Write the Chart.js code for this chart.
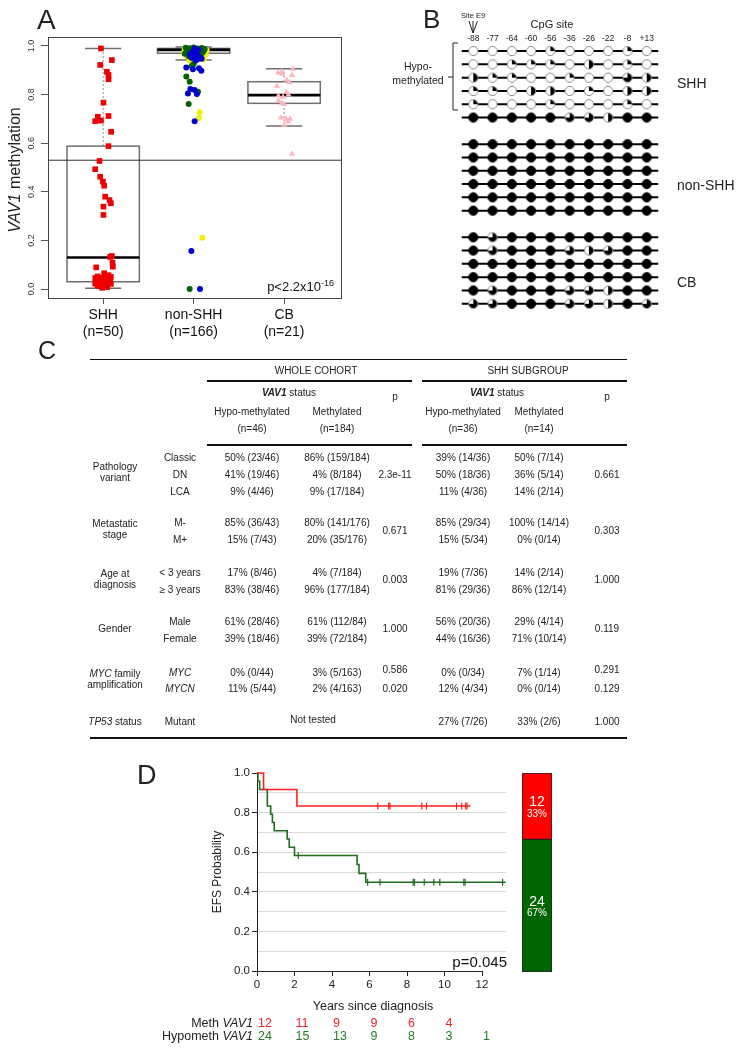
<!DOCTYPE html>
<html>
<head>
<meta charset="utf-8">
<script src="https://cdn.jsdelivr.net/npm/chart.js@4.4.1/dist/chart.umd.min.js"></script>
<style>
body { margin: 0; background: #fff; }
#page { position: relative; width: 739px; height: 1048px; overflow: hidden; font-family: "Liberation Sans", Arial, sans-serif; color: #222; background: #fff; }
canvas { position: absolute; }
.t { position: absolute; white-space: nowrap; line-height: 1; }
.hr { position: absolute; background: #111; height: 1.5px; }
svg { position: absolute; left: 0; top: 0; }
</style>
</head>
<body>
<div id="page">
  <canvas id="boxChart" style="left:0;top:0;width:350px;height:345px" width="350" height="345"></canvas>
  <canvas id="cpgChart" style="left:440px;top:0;width:299px;height:330px" width="299" height="330"></canvas>
  <canvas id="kmChart" style="left:150px;top:760px;width:410px;height:245px" width="410" height="245"></canvas>
  <canvas id="barChart" style="left:521px;top:772px;width:32px;height:201px" width="32" height="201"></canvas>
  <svg width="739" height="1048">
    <g stroke="#222" stroke-width="1" fill="none">
      <path d="M473 21 L473 33 M469 21 L473 33 L477.5 21"/>
      <path d="M458 43 L453 43 L453 110 L458 110 M448 77 L453 77"/>
    </g>
  </svg>
</div>
<script>
// ---------- panel A data ----------
const groups = ['SHH', 'non-SHH', 'CB'];
const groupN = ['(n=50)', '(n=166)', '(n=21)'];
const yTicksA = [0, 0.2, 0.4, 0.6, 0.8, 1.0];
const cutoff = 0.53;
// box stats per group
const boxLow = [0.003, 0.942, 0.671];
const boxQ1 = [0.030, 0.970, 0.764];
const boxMed = [0.130, 0.984, 0.798];
const boxQ3 = [0.588, 0.990, 0.853];
const boxHigh = [0.990, 0.996, 0.906];

const shhVals = [0.99, 0.942, 0.922, 0.894, 0.881, 0.863, 0.767, 0.709, 0.712, 0.691, 0.693, 0.647, 0.588, 0.527, 0.493,
  0.462, 0.442, 0.425, 0.38, 0.366, 0.353, 0.339, 0.305, 0.136, 0.132, 0.108, 0.092, 0.089, 0.065, 0.057, 0.052, 0.05,
  0.047, 0.045, 0.043, 0.036, 0.036, 0.031, 0.029, 0.026, 0.024, 0.022, 0.021, 0.019, 0.021, 0.016, 0.016, 0.012, 0.008, 0.005];
const shhJit = [-0.025, 0.096, -0.033, 0.041, 0.059, 0.059, 0.003, -0.059, 0.059, -0.088, -0.025, 0.088, 0.059, -0.041, -0.088,
  -0.033, -0.003, 0.011, 0.022, 0.07, 0.085, 0.003, 0.003, 0.096, 0.077, 0.103, 0.107, -0.077, 0.011, 0.059, -0.063, 0.085,
  -0.014, -0.088, 0.041, -0.041, 0.077, -0.077, 0.003, 0.059, -0.052, -0.088, 0.033, -0.025, 0.085, -0.063, 0.022, -0.041, 0.044, -0.011];

const nonShhGreen = [0.993, 0.991, 0.994, 0.990, 0.992, 0.988, 0.985, 0.983, 0.986, 0.982, 0.980, 0.978, 0.975, 0.977, 0.973,
  0.970, 0.968, 0.962, 0.958, 0.926, 0.918, 0.874, 0.853, 0.812, 0.761, 0.0];
const nonShhGreenJit = [-0.088, -0.044, 0, 0.044, 0.088, 0.122, -0.066, -0.022, 0.022, 0.066, 0.11, -0.077, -0.033, 0.055, 0.099,
  0.011, -0.099, 0.077, -0.055, 0, -0.022, -0.081, -0.044, 0.048, -0.055, -0.044];
const nonShhBlue = [0.990, 0.985, 0.975, 0.970, 0.966, 0.963, 0.958, 0.955, 0.952, 0.948, 0.945, 0.940, 0.911, 0.904, 0.908,
  0.898, 0.823, 0.819, 0.805, 0.802, 0.690, 0.156, 0.0];
const nonShhBlueJit = [0.011, 0.055, -0.011, 0.033, -0.044, 0, 0.022, 0.066, -0.022, 0.088, 0.044, 0.022, -0.081, -0.008, 0.059,
  0.085, -0.036, 0.011, -0.063, 0.036, 0.011, -0.025, 0.07];
const nonShhYellow = [0.988, 0.984, 0.980, 0.972, 0.968, 0.965, 0.960, 0.956, 0.952, 0.948, 0.944, 0.940, 0.936, 0.727, 0.704, 0.211];
const nonShhYellowJit = [-0.099, 0.144, -0.088, -0.11, -0.066, 0.133, -0.077, -0.033, -0.055, -0.011, 0.11, -0.044, 0.011, 0.066, 0.059, 0.096];

const cbVals = [0.905, 0.895, 0.890, 0.885, 0.880, 0.860, 0.850, 0.835, 0.810, 0.800, 0.795, 0.790, 0.775, 0.765, 0.760,
  0.705, 0.700, 0.700, 0.690, 0.675, 0.556];
const cbJit = [0.096, -0.025, -0.066, -0.022, 0.088, 0.03, 0.059, -0.081, 0.022, 0.048, -0.063, -0.011, -0.063, -0.025, 0,
  -0.036, 0.022, 0.066, 0.044, 0, 0.088];

// ---------- panel B data ----------
const cpgSites = ['-88', '-77', '-64', '-60', '-56', '-36', '-26', '-22', '-8', '+13'];
const shhMeth = [
  [0, 0, 0, 0, 0.25, 0, 0, 0, 0.25, 0],
  [0, 0, 0.25, 0.25, 0.25, 0, 0.5, 0, 0.25, 0],
  [0.5, 0.25, 0.25, 0, 0, 0.25, 0, 0, 0.75, 0.5],
  [0.25, 0.25, 0, 0.5, 0.5, 0, 0.25, 0, 0.5, 0.5],
  [0.25, 0, 0, 0, 0.25, 0, 0, 0, 0.25, 0],
  [1, 1, 1, 1, 1, 0.75, 0.75, 0.5, 1, 1]
];
const nonShhMeth = [
  [1, 1, 1, 1, 1, 1, 1, 1, 1, 1],
  [1, 1, 1, 1, 1, 1, 1, 1, 1, 1],
  [1, 1, 1, 1, 1, 1, 1, 1, 1, 1],
  [1, 1, 1, 1, 1, 1, 1, 1, 1, 1],
  [1, 1, 1, 1, 1, 1, 1, 1, 1, 1],
  [1, 1, 1, 1, 1, 1, 1, 1, 1, 1]
];
const cbMeth = [
  [1, 0.75, 1, 1, 1, 1, 1, 1, 1, 1],
  [1, 0.75, 1, 1, 1, 0.75, 0.5, 0.75, 1, 1],
  [1, 1, 1, 1, 1, 1, 1, 1, 1, 1],
  [1, 1, 1, 1, 1, 1, 1, 1, 1, 1],
  [1, 0.75, 1, 1, 1, 0.75, 0.75, 0.5, 1, 1],
  [0.75, 0.75, 1, 1, 1, 0.75, 0.75, 0.5, 1, 0.75]
];
const methBlocks = [shhMeth, nonShhMeth, cbMeth];
const blockStartRow = [0, 7, 14];

// ---------- panel C data ----------
const tblRows = [
  { label: ['Pathology', 'variant'], subs: ['Classic', 'DN', 'LCA'],
    whole: [['50% (23/46)', '86% (159/184)'], ['41% (19/46)', '4% (8/184)'], ['9% (4/46)', '9% (17/184)']], pWhole: ['2.3e-11'],
    shh: [['39% (14/36)', '50% (7/14)'], ['50% (18/36)', '36% (5/14)'], ['11% (4/36)', '14% (2/14)']], pShh: ['0.661'] },
  { label: ['Metastatic', 'stage'], subs: ['M-', 'M+'],
    whole: [['85% (36/43)', '80% (141/176)'], ['15% (7/43)', '20% (35/176)']], pWhole: ['0.671'],
    shh: [['85% (29/34)', '100% (14/14)'], ['15% (5/34)', '0% (0/14)']], pShh: ['0.303'] },
  { label: ['Age at', 'diagnosis'], subs: ['&lt; 3 years', '&ge; 3 years'],
    whole: [['17% (8/46)', '4% (7/184)'], ['83% (38/46)', '96% (177/184)']], pWhole: ['0.003'],
    shh: [['19% (7/36)', '14% (2/14)'], ['81% (29/36)', '86% (12/14)']], pShh: ['1.000'] },
  { label: ['Gender'], subs: ['Male', 'Female'],
    whole: [['61% (28/46)', '61% (112/84)'], ['39% (18/46)', '39% (72/184)']], pWhole: ['1.000'],
    shh: [['56% (20/36)', '29% (4/14)'], ['44% (16/36)', '71% (10/14)']], pShh: ['0.119'] },
  { label: ['<i>MYC</i> family', 'amplification'], subs: ['<i>MYC</i>', '<i>MYCN</i>'],
    whole: [['0% (0/44)', '3% (5/163)'], ['11% (5/44)', '2% (4/163)']], pWhole: ['0.586', '0.020'],
    shh: [['0% (0/34)', '7% (1/14)'], ['12% (4/34)', '0% (0/14)']], pShh: ['0.291', '0.129'] },
  { label: ['<i>TP53</i> status'], subs: ['Mutant'],
    whole: null, pWhole: [],
    shh: [['27% (7/26)', '33% (2/6)']], pShh: ['1.000'] }
];

// ---------- panel D data ----------
const methTimes = [0, 0.35, 2.13, 11.38];
const methSurv = [1, 0.917, 0.833, 0.833];
const methCensorT = [6.44, 7.02, 7.09, 8.79, 9.04, 10.64, 10.92, 11.13, 11.2];
const methCensorS = [0.833, 0.833, 0.833, 0.833, 0.833, 0.833, 0.833, 0.833, 0.833];
const hypoTimes = [0, 0.05, 0.14, 0.55, 0.73, 0.82, 0.92, 1.61, 1.72, 2.0, 5.34, 5.44, 5.8, 13.26];
const hypoSurv = [1, 0.958, 0.917, 0.833, 0.792, 0.75, 0.708, 0.667, 0.625, 0.583, 0.538, 0.493, 0.448, 0.448];
const hypoCensorT = [2.2, 5.9, 6.56, 8.33, 8.4, 8.92, 9.43, 9.75, 11.03, 11.1, 13.1];
const hypoCensorS = [0.583, 0.448, 0.448, 0.448, 0.448, 0.448, 0.448, 0.448, 0.448, 0.448, 0.448];
const yearTicks = [0, 2, 4, 6, 8, 10, 12];
const efsTicks = [0, 0.1, 0.2, 0.3, 0.4, 0.5, 0.6, 0.7, 0.8, 0.9, 1.0];
const methAtRisk = [12, 11, 9, 9, 6, 4];
const hypoAtRisk = [24, 15, 13, 9, 8, 3, 1];
const groupCounts = { meth: 12, hypo: 24 };

const RED = '#ff1f1f', GREEN = '#1e6e1e';

Chart.defaults.font.family = '"Liberation Sans", Arial, sans-serif';
Chart.defaults.animation = false;
Chart.defaults.plugins.legend.display = false;
Chart.defaults.plugins.tooltip.enabled = false;

const page = document.getElementById('page');
function put(html, x, cy, size, align, style) {
  const d = document.createElement('div');
  d.className = 't';
  d.innerHTML = html;
  d.style.fontSize = size + 'px';
  d.style.top = (cy - size * 0.49) + 'px';
  if (align === 'c') { d.style.left = x + 'px'; d.style.transform = 'translateX(-50%)'; }
  else if (align === 'r') { d.style.right = (739 - x) + 'px'; }
  else d.style.left = x + 'px';
  if (style) Object.assign(d.style, style);
  page.appendChild(d);
  return d;
}
function putRot(html, x, cy, size) {
  const d = document.createElement('div');
  d.className = 't';
  d.innerHTML = html;
  d.style.fontSize = size + 'px';
  d.style.left = x + 'px';
  d.style.top = cy + 'px';
  d.style.transform = 'translate(-50%,-50%) rotate(-90deg)';
  page.appendChild(d);
}
function hline(x1, x2, y) {
  const d = document.createElement('div');
  d.className = 'hr';
  d.style.left = x1 + 'px';
  d.style.width = (x2 - x1) + 'px';
  d.style.top = (y - 0.75) + 'px';
  page.appendChild(d);
}

// ---------- A: box plot ----------
const pts = (vals, jit, g) => vals.map((v, i) => ({ x: g + jit[i], y: v }));

const boxPlugin = {
  id: 'boxes',
  beforeDatasetsDraw(chart) {
    const { ctx, scales: { x, y } } = chart;
    const seg = (x1, y1, x2, y2) => { ctx.beginPath(); ctx.moveTo(x1, y1); ctx.lineTo(x2, y2); ctx.stroke(); };
    ctx.save();
    groups.forEach((g, i) => {
      const c = i + 1;
      const m = x.getPixelForValue(c);
      const l = x.getPixelForValue(c - 0.4), r = x.getPixelForValue(c + 0.4);
      const cl = x.getPixelForValue(c - 0.2), cr = x.getPixelForValue(c + 0.2);
      ctx.strokeStyle = '#9a9a9a'; ctx.lineWidth = 1.2; ctx.setLineDash([2, 2]);
      seg(m, y.getPixelForValue(boxQ3[i]), m, y.getPixelForValue(boxHigh[i]));
      seg(m, y.getPixelForValue(boxLow[i]), m, y.getPixelForValue(boxQ1[i]));
      ctx.setLineDash([]);
      ctx.strokeStyle = '#6e6e6e'; ctx.lineWidth = 1.5;
      seg(cl, y.getPixelForValue(boxHigh[i]), cr, y.getPixelForValue(boxHigh[i]));
      seg(cl, y.getPixelForValue(boxLow[i]), cr, y.getPixelForValue(boxLow[i]));
      const top = y.getPixelForValue(boxQ3[i]), bot = y.getPixelForValue(boxQ1[i]);
      ctx.strokeRect(l, top, r - l, bot - top);
      ctx.strokeStyle = '#000'; ctx.lineWidth = 2.6;
      seg(l, y.getPixelForValue(boxMed[i]), r, y.getPixelForValue(boxMed[i]));
    });
    ctx.restore();
  },
  afterDraw(chart) {
    const { ctx, chartArea: a } = chart;
    ctx.save();
    ctx.strokeStyle = '#444'; ctx.lineWidth = 1;
    ctx.strokeRect(a.left + 0.5, a.top + 0.5, a.right - a.left - 1, a.bottom - a.top - 1);
    ctx.restore();
  }
};

new Chart(document.getElementById('boxChart'), {
  type: 'scatter',
  data: {
    datasets: [
      { data: pts(shhVals, shhJit, 1), pointStyle: 'rect', pointRadius: 4, backgroundColor: '#ee0000', borderWidth: 0 },
      { data: pts(nonShhBlue, nonShhBlueJit, 2), pointRadius: 3, backgroundColor: '#0000cd', borderWidth: 0 },
      { data: pts(nonShhGreen, nonShhGreenJit, 2), pointRadius: 3, backgroundColor: '#006400', borderWidth: 0 },
      { data: pts(nonShhYellow, nonShhYellowJit, 2), pointRadius: 3, backgroundColor: '#eeee10', borderWidth: 0 },
      { data: pts(cbVals, cbJit, 3), pointStyle: 'triangle', pointRadius: 3.6, backgroundColor: '#ffb6c1', borderWidth: 0 },
      { type: 'line', data: [{ x: 0.39, y: cutoff }, { x: 3.64, y: cutoff }], borderColor: '#333', borderWidth: 1, pointRadius: 0 }
    ]
  },
  options: {
    responsive: false,
    layout: { padding: { top: 37, right: 8, left: 0, bottom: 0 } },
    scales: {
      x: {
        type: 'linear', min: 0.39, max: 3.64,
        border: { display: false },
        grid: { drawOnChartArea: false, tickLength: 5, color: '#555' },
        afterBuildTicks: s => { s.ticks = groups.map((g, i) => ({ value: i + 1 })); },
        ticks: { autoSkip: false, maxRotation: 0, padding: 3, color: '#111', font: { size: 14 },
          callback: v => [groups[v - 1], groupN[v - 1]] },
        afterFit: s => { s.height = 46; }
      },
      y: {
        min: -0.041, max: 1.037,
        border: { display: false },
        grid: { drawOnChartArea: false, tickLength: 7, color: '#555' },
        afterBuildTicks: s => { s.ticks = yTicksA.map(v => ({ value: v })); },
        ticks: { minRotation: 90, maxRotation: 90, crossAlign: 'center', padding: 3, color: '#333', font: { size: 9 },
          callback: v => v.toFixed(1) },
        afterFit: s => { s.width = 48; }
      }
    }
  },
  plugins: [boxPlugin]
});

// ---------- B: CpG lollipop ----------
const pieCache = {};
function pieIcon(f) {
  if (pieCache[f]) return pieCache[f];
  const c = document.createElement('canvas');
  c.width = 12; c.height = 12;
  const g = c.getContext('2d');
  const r = 4.6;
  g.beginPath(); g.arc(6, 6, r, 0, Math.PI * 2); g.fillStyle = '#fff'; g.fill();
  if (f > 0) {
    g.beginPath(); g.moveTo(6, 6);
    g.arc(6, 6, r, -Math.PI / 2, -Math.PI / 2 + Math.PI * 2 * f);
    g.closePath(); g.fillStyle = '#000'; g.fill();
  }
  g.beginPath(); g.arc(6, 6, r, 0, Math.PI * 2);
  g.lineWidth = 1; g.strokeStyle = f >= 1 ? '#000' : '#8a8a8a'; g.stroke();
  pieCache[f] = c;
  return c;
}
const circlePts = [];
const rowLines = [];
methBlocks.forEach((block, b) => {
  block.forEach((row, r) => {
    const yRow = blockStartRow[b] + r;
    row.forEach((f, i) => circlePts.push({ x: i, y: yRow, f: f }));
    rowLines.push({ type: 'line', data: [{ x: -0.6, y: yRow }, { x: cpgSites.length - 0.4, y: yRow }],
      borderColor: '#000', borderWidth: 2, pointRadius: 0 });
  });
});

const cpgChart = new Chart(document.getElementById('cpgChart'), {
  type: 'scatter',
  data: {
    datasets: [
      { data: circlePts, pointStyle: ctx => pieIcon(ctx.raw ? ctx.raw.f : 1), pointRadius: 5 },
      ...rowLines
    ]
  },
  options: {
    responsive: false,
    layout: { padding: { left: 19.8, right: 78.8, top: 42, bottom: 15.6 } },
    scales: {
      x: { type: 'linear', min: -0.7, max: 9.7, display: false },
      y: { type: 'linear', reverse: true, min: -0.68, max: 19.8, display: false }
    }
  }
});
// CpG site labels along the top, placed from the chart's x scale
cpgSites.forEach((s, i) => put(s, 440 + cpgChart.scales.x.getPixelForValue(i), 38, 8.5, 'c'));

// ---------- D: Kaplan-Meier ----------
const xy = (xs, ys) => xs.map((t, i) => ({ x: t, y: ys[i] }));
const kmAxisPlugin = {
  id: 'kmAxis',
  afterDraw(chart) {
    const { ctx, chartArea: a, scales: { x } } = chart;
    ctx.save();
    ctx.strokeStyle = '#222'; ctx.lineWidth = 1;
    ctx.beginPath();
    ctx.moveTo(x.getPixelForValue(yearTicks[0]), a.bottom + 0.5);
    ctx.lineTo(x.getPixelForValue(yearTicks[yearTicks.length - 1]), a.bottom + 0.5);
    ctx.stroke();
    ctx.restore();
  }
};
const evenTick = v => Math.round(v * 10) % 2 === 0;
const kmChart = new Chart(document.getElementById('kmChart'), {
  type: 'scatter',
  data: {
    datasets: [
      { data: xy(methCensorT, methCensorS), pointStyle: 'line', rotation: 90, pointRadius: 3.5, borderColor: RED, borderWidth: 1.2, clip: false },
      { data: xy(hypoCensorT, hypoCensorS), pointStyle: 'line', rotation: 90, pointRadius: 3.5, borderColor: GREEN, borderWidth: 1.2, clip: false },
      { type: 'line', data: xy(methTimes, methSurv), stepped: true, borderColor: RED, borderWidth: 1.6, pointRadius: 0, clip: false },
      { type: 'line', data: xy(hypoTimes, hypoSurv), stepped: true, borderColor: GREEN, borderWidth: 1.6, pointRadius: 0, clip: false }
    ]
  },
  options: {
    responsive: false,
    layout: { padding: { top: 13, right: 54, left: 0, bottom: 0 } },
    scales: {
      x: {
        type: 'linear', min: 0, max: 13.28,
        border: { display: false },
        grid: { drawOnChartArea: false, tickLength: 5, color: '#222' },
        afterBuildTicks: s => { s.ticks = yearTicks.map(v => ({ value: v })); },
        ticks: { autoSkip: false, maxRotation: 0, padding: 2, color: '#222', font: { size: 11.5 } },
        afterFit: s => { s.height = 34; }
      },
      y: {
        min: 0, max: 1,
        border: { display: true, color: '#222', width: 1 },
        grid: {
          tickLength: 5,
          color: ctx => (ctx.tick && ctx.tick.value > 0.01 && ctx.tick.value < 0.99) ? '#d9d9d9' : 'rgba(0,0,0,0)',
          tickColor: ctx => (ctx.tick && evenTick(ctx.tick.value)) ? '#222' : 'rgba(0,0,0,0)'
        },
        afterBuildTicks: s => { s.ticks = efsTicks.map(v => ({ value: v })); },
        ticks: { autoSkip: false, padding: 2, color: '#222', font: { size: 11.5 },
          callback: v => evenTick(v) ? v.toFixed(1) : '' },
        afterFit: s => { s.width = 107; }
      }
    }
  },
  plugins: [kmAxisPlugin]
});

// stacked group-size bar
const barLabelPlugin = {
  id: 'barLabels',
  afterDatasetsDraw(chart) {
    const { ctx } = chart;
    const total = chart.data.datasets.reduce((s, d) => s + d.data[0], 0);
    ctx.save();
    ctx.fillStyle = '#fff'; ctx.textAlign = 'center'; ctx.textBaseline = 'middle';
    chart.data.datasets.forEach((ds, i) => {
      const bar = chart.getDatasetMeta(i).data[0];
      const cy = (bar.y + bar.base) / 2;
      ctx.font = '14px "Liberation Sans", Arial, sans-serif';
      ctx.fillText(String(ds.data[0]), bar.x, cy - 4);
      ctx.font = '10px "Liberation Sans", Arial, sans-serif';
      ctx.fillText(Math.round(ds.data[0] / total * 100) + '%', bar.x, cy + 8);
    });
    ctx.restore();
  }
};
new Chart(document.getElementById('barChart'), {
  type: 'bar',
  data: {
    labels: [''],
    datasets: [
      { data: [groupCounts.hypo], backgroundColor: '#006400', borderColor: '#222', borderWidth: 1, borderSkipped: false },
      { data: [groupCounts.meth], backgroundColor: '#ff0000', borderColor: '#222', borderWidth: 1, borderSkipped: false }
    ]
  },
  options: {
    responsive: false,
    layout: { padding: 1 },
    datasets: { bar: { barPercentage: 1, categoryPercentage: 1 } },
    scales: {
      x: { stacked: true, display: false },
      y: { stacked: true, display: false, min: 0, max: groupCounts.meth + groupCounts.hypo }
    }
  },
  plugins: [barLabelPlugin]
});

// ---------- text: panel A / B ----------
put('A', 37, 20, 28, 'l');
putRot('<i>VAV1</i> methylation', 15, 170, 16);
put('p&lt;2.2x10<sup style="font-size:9px;vertical-align:5px">-16</sup>', 334, 285, 13, 'r', { color: '#111' });

put('B', 423, 19, 26, 'l');
put('Site E9', 473, 16, 7.5, 'c');
put('CpG site', 552, 24, 11, 'c');
put('Hypo-', 418, 66, 10.5, 'c');
put('methylated', 418, 80, 10.5, 'c');
put('SHH', 677, 83, 14, 'l');
put('non-SHH', 677, 185, 14, 'l');
put('CB', 677, 282, 14, 'l');

// ---------- panel C: table ----------
put('C', 38, 350, 25, 'l');
hline(90, 627, 359.5);
hline(207, 412, 381); hline(422, 627, 381);
hline(207, 412, 445); hline(422, 627, 445);
hline(90, 627, 738);
const colX = { label: 115, sub: 180, wh: 252, wm: 337, wp: 395, sh: 463, sm: 539, sp: 607 };
const fs = 10;
put('WHOLE COHORT', 316, 371, fs, 'c');
put('SHH SUBGROUP', 528, 371, fs, 'c');
put('<b><i>VAV1</i></b> status', 289, 393, fs, 'c');
put('<b><i>VAV1</i></b> status', 497, 393, fs, 'c');
put('p', colX.wp, 397, fs, 'c');
put('p', colX.sp, 397, fs, 'c');
put('Hypo-methylated', colX.wh, 412, fs, 'c'); put('Methylated', colX.wm, 412, fs, 'c');
put('(n=46)', colX.wh, 429, fs, 'c'); put('(n=184)', colX.wm, 429, fs, 'c');
put('Hypo-methylated', colX.sh, 412, fs, 'c'); put('Methylated', colX.sm, 412, fs, 'c');
put('(n=36)', colX.sh, 429, fs, 'c'); put('(n=14)', colX.sm, 429, fs, 'c');

// row layout (centre y of each text line)
const rowLayout = [
  { labelY: [467, 478], subY: [458, 475, 492], pY: [475] },
  { labelY: [524, 535], subY: [523, 540], pY: [531] },
  { labelY: [574, 585], subY: [573, 590], pY: [580] },
  { labelY: [629], subY: [622, 639], pY: [629] },
  { labelY: [674, 685], subY: [673, 689], pY: [670, 689] },
  { labelY: [722], subY: [722], pY: [722] }
];
tblRows.forEach((row, k) => {
  const L = rowLayout[k];
  row.label.forEach((t, j) => put(t, colX.label, L.labelY[j], fs, 'c'));
  row.subs.forEach((t, j) => {
    const y = L.subY[j];
    put(t, colX.sub, y, fs, 'c');
    if (row.whole) { put(row.whole[j][0], colX.wh, y, fs, 'c'); put(row.whole[j][1], colX.wm, y, fs, 'c'); }
    put(row.shh[j][0], colX.sh, y, fs, 'c'); put(row.shh[j][1], colX.sm, y, fs, 'c');
  });
  row.pWhole.forEach((p, j) => put(p, colX.wp, L.pY[j], fs, 'c'));
  row.pShh.forEach((p, j) => put(p, colX.sp, L.pY[j], fs, 'c'));
  if (!row.whole) put('Not tested', 313, 720, fs, 'c');
});

// ---------- panel D text ----------
put('D', 137, 775, 27, 'l');
putRot('EFS Probability', 217, 872, 12);
put('p=0.045', 507, 961, 15, 'r', { color: '#111' });
put('Years since diagnosis', 373, 1006, 12.5, 'c');
put('Meth <i>VAV1</i>', 253, 1023, 12.5, 'r');
put('Hypometh <i>VAV1</i>', 253, 1036, 12.5, 'r');
const kmLeft = 150;
methAtRisk.forEach((n, i) => put(String(n), kmLeft + kmChart.scales.x.getPixelForValue(yearTicks[i]) + 1, 1023, 12.5, 'l', { color: '#e8262a' }));
hypoAtRisk.forEach((n, i) => put(String(n), kmLeft + kmChart.scales.x.getPixelForValue(yearTicks[i]) + 1, 1036, 12.5, 'l', { color: '#2a7a2a' }));
</script>
</body>
</html>
